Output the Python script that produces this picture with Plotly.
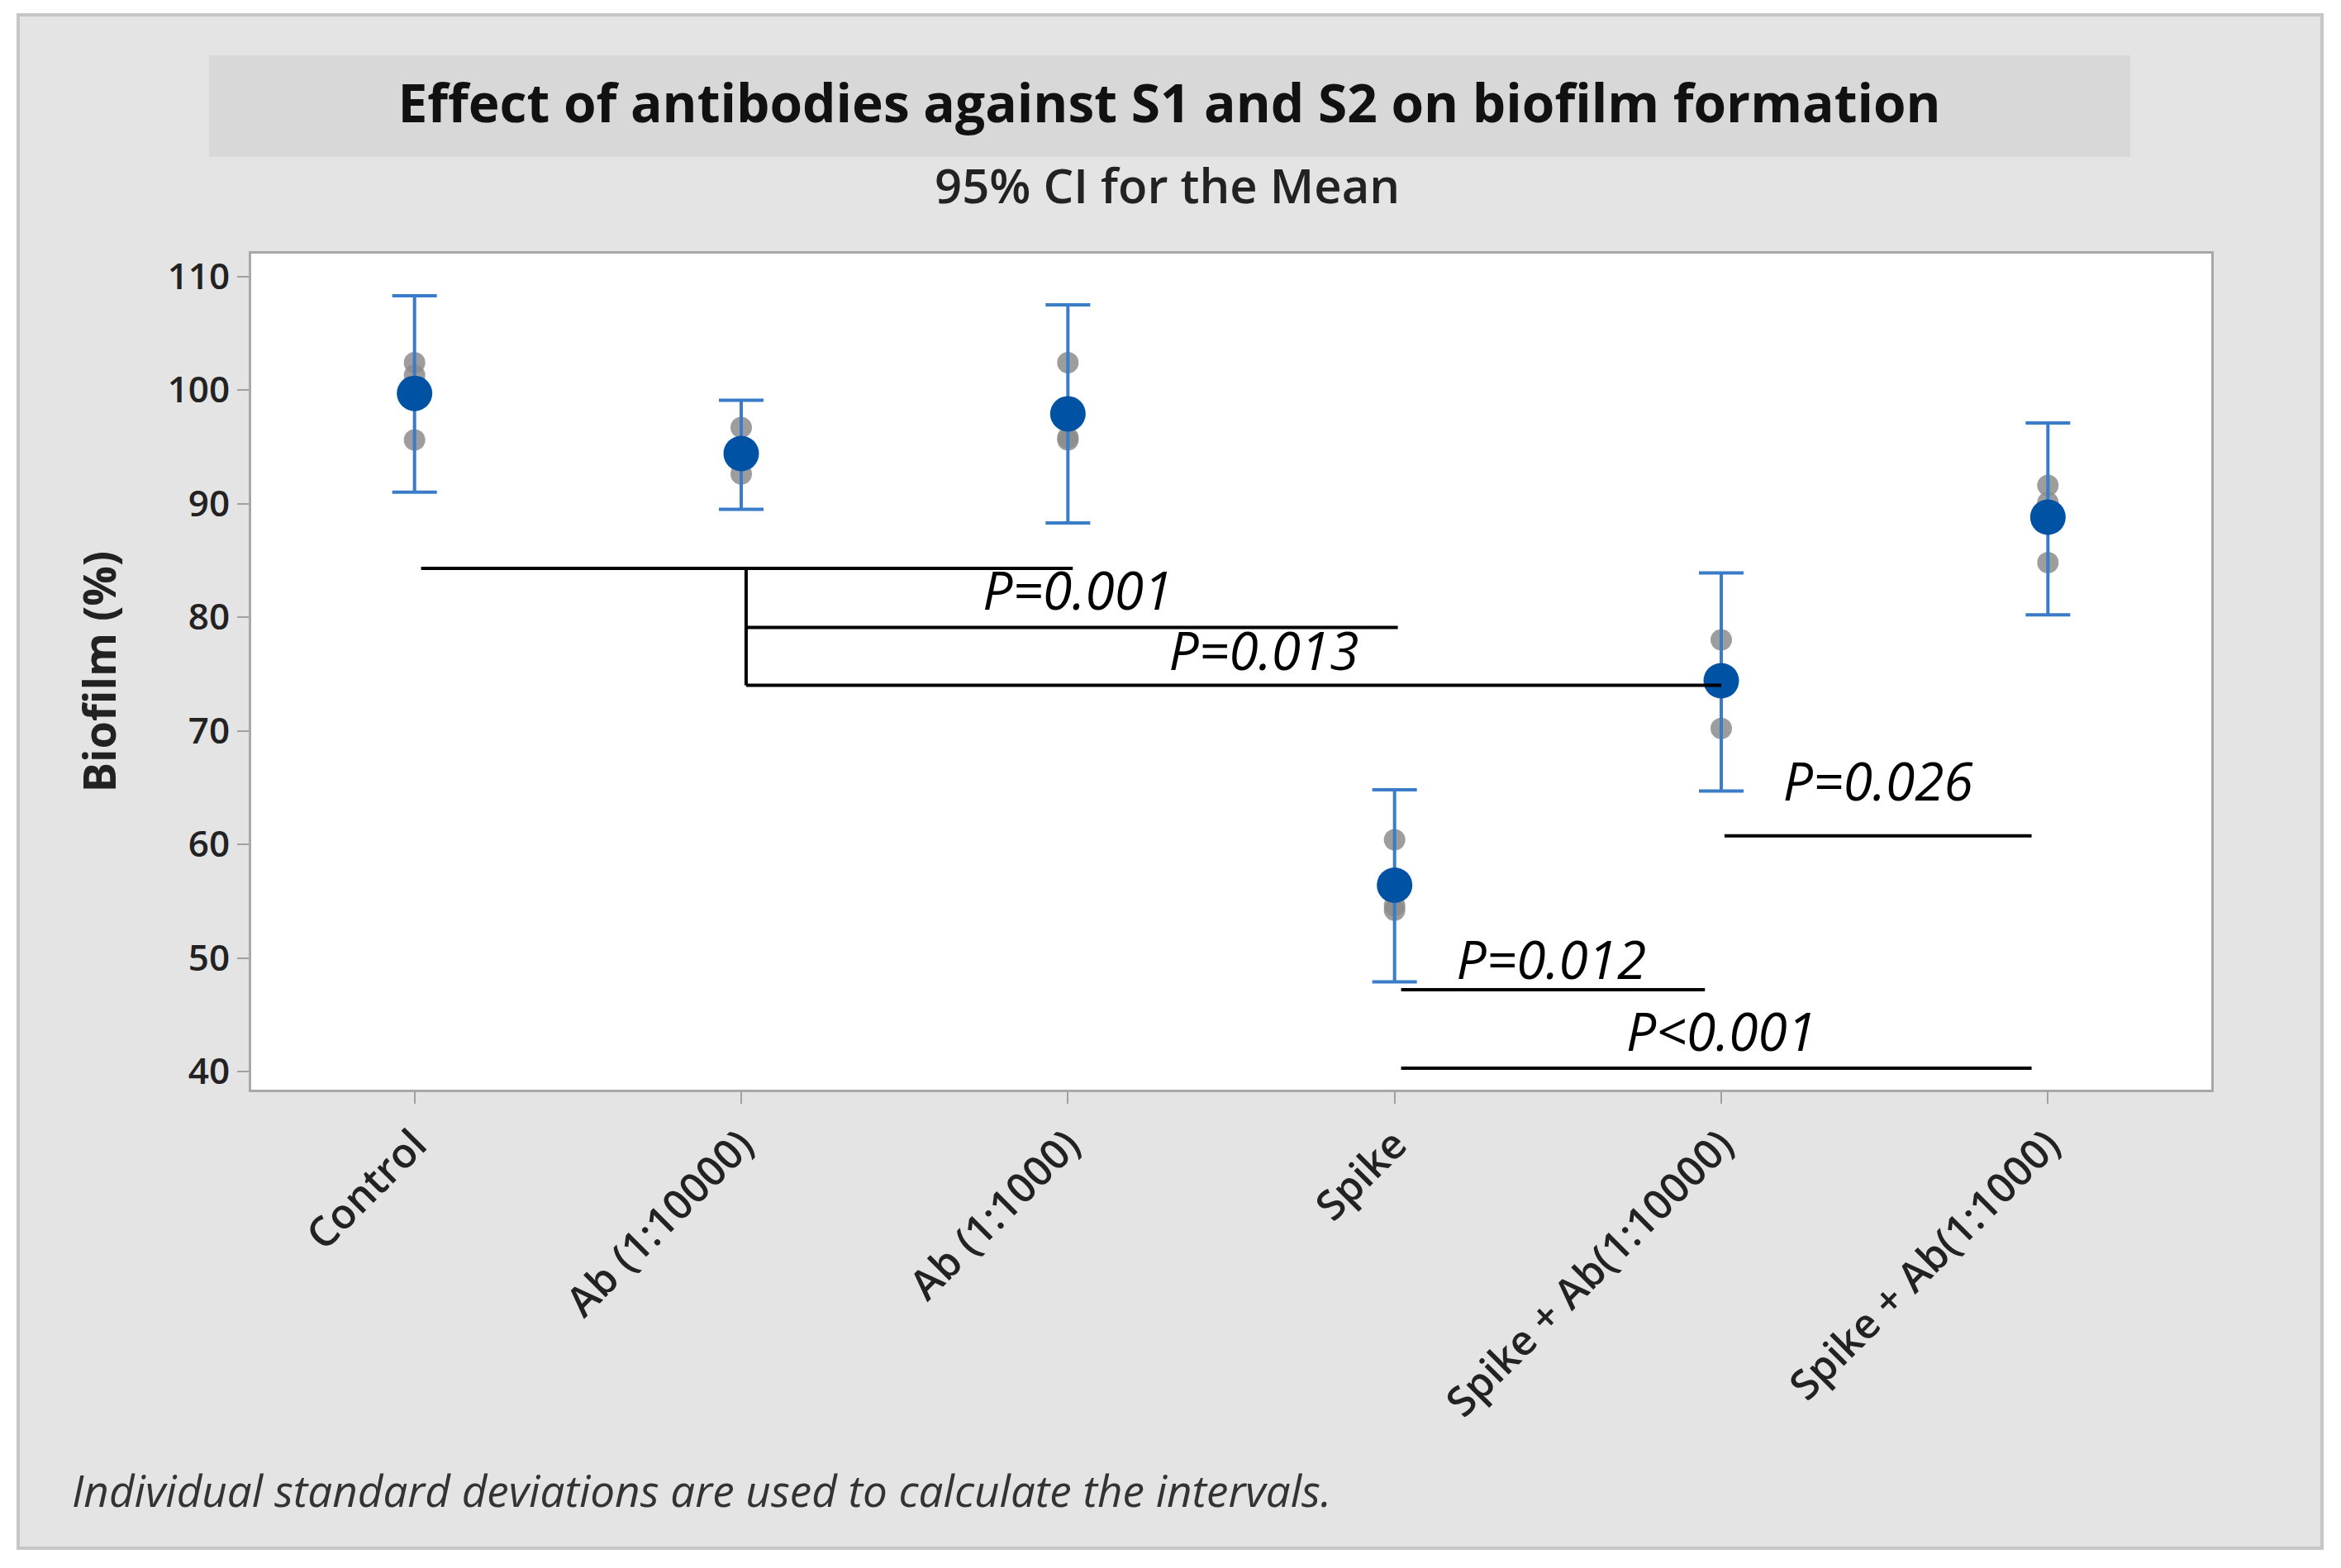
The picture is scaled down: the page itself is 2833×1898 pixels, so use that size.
import plotly.graph_objects as go

# ---------------- data ----------------
categories = ["Control", "Ab (1:10000)", "Ab (1:1000)", "Spike",
              "Spike + Ab(1:10000)", "Spike + Ab(1:1000)"]
means = [99.7, 94.4, 97.9, 56.4, 74.4, 88.8]
ci_low = [91.0, 89.5, 88.3, 47.9, 64.7, 80.2]
ci_high = [108.3, 99.1, 107.5, 64.8, 83.9, 97.1]
obs_1 = [102.4, 96.7, 102.4, 60.4, 78.0, 91.6]
obs_2 = [101.3, 94.0, 95.8, 54.6, 75.0, 90.1]
obs_3 = [95.6, 92.6, 95.6, 54.2, 70.2, 84.8]

y_ticks = [40, 50, 60, 70, 80, 90, 100, 110]

# significance brackets (category-index units, y in %)
bracket_x0 = [0.02, 1.015, 1.015, 1.015, 4.01, 3.02, 3.02]
bracket_x1 = [2.015, 1.015, 3.01, 4.0, 4.95, 3.95, 4.95]
bracket_y0 = [84.3, 84.3, 79.1, 74.0, 60.75, 47.2, 40.3]
bracket_y1 = [84.3, 74.0, 79.1, 74.0, 60.75, 47.2, 40.3]

p_labels = ["P=0.001", "P=0.013", "P=0.026", "P=0.012", "P<0.001"]
p_label_x = [2.03, 2.60, 4.48, 3.48, 4.00]
p_label_y = [81.8, 76.5, 65.0, 49.3, 43.0]

# ---------------- layout geometry (page pixels) ----------------
OFF = 8                      # default body margin of the html page
W, H = 2833 - 2 * OFF, 1898 - 2 * OFF
L, R_EDGE, T, B_EDGE = 304, 2676, 307, 1319   # plot area, page coords
FONT = "Open Sans, Noto Sans, sans-serif"


def pxx(px):
    return (px - L) / (R_EDGE - L)


def pxy(py):
    return (B_EDGE - py) / (B_EDGE - T)


xs = list(range(len(categories)))

fig = go.Figure()

# individual observations
obs_x, obs_y = [], []
for i in xs:
    for series in (obs_1, obs_2, obs_3):
        obs_x.append(i)
        obs_y.append(series[i])
fig.add_trace(go.Scatter(
    x=obs_x, y=obs_y, mode="markers",
    marker=dict(size=26, color="#8c8c8c", opacity=0.85),
    hoverinfo="y", showlegend=False))

# means with 95% CI
fig.add_trace(go.Scatter(
    x=xs, y=means, mode="markers",
    marker=dict(size=43, color="#0052a5"),
    error_y=dict(type="data", symmetric=False,
                 array=[h - m for h, m in zip(ci_high, means)],
                 arrayminus=[m - l for m, l in zip(means, ci_low)],
                 color="#3b7cc8", thickness=4, width=27),
    showlegend=False))

# significance brackets
bx, by = [], []
for x0, x1, y0, y1 in zip(bracket_x0, bracket_x1, bracket_y0, bracket_y1):
    bx += [x0, x1, None]
    by += [y0, y1, None]
fig.add_trace(go.Scatter(x=bx, y=by, mode="lines",
                         line=dict(color="black", width=4),
                         hoverinfo="skip", showlegend=False))

fig.add_trace(go.Scatter(
    x=p_label_x, y=p_label_y, mode="text", text=p_labels,
    textfont=dict(family=FONT, size=64, color="black", style="italic"),
    hoverinfo="skip", showlegend=False))

shapes = [
    # outer grey panel
    dict(type="rect", xref="paper", yref="paper", layer="below",
         x0=pxx(22), x1=pxx(2810), y0=pxy(18), y1=pxy(1874),
         fillcolor="#e4e4e4", line=dict(color="#c6c6c6", width=4)),
    # title band
    dict(type="rect", xref="paper", yref="paper", layer="below",
         x0=pxx(253), x1=pxx(2578), y0=pxy(67), y1=pxy(190),
         fillcolor="#d8d8d8", line=dict(width=0)),
    # plot area background
    dict(type="rect", xref="paper", yref="paper", layer="below",
         x0=0, x1=1, y0=0, y1=1, fillcolor="white", line=dict(width=0)),
]

annotations = [
    dict(text="95% CI for the Mean", xref="paper", yref="paper",
         x=pxx(1412), y=pxy(224), xanchor="center", yanchor="middle",
         showarrow=False, font=dict(family=FONT, size=58, color="#222",
                                    weight=600)),
    dict(text="Individual standard deviations are used to calculate the intervals.",
         xref="paper", yref="paper", x=pxx(85), y=pxy(1803),
         xanchor="left", yanchor="middle", showarrow=False,
         font=dict(family=FONT, size=53, color="#333", style="italic")),
]

fig.update_layout(
    width=W, height=H,
    margin=dict(l=L - OFF, r=W - (R_EDGE - OFF), t=T - OFF,
                b=H - (B_EDGE - OFF), autoexpand=False),
    paper_bgcolor="white", plot_bgcolor="white",
    title=dict(text="Effect of antibodies against S1 and S2 on biofilm formation",
               xref="container", yref="container",
               x=(1415 - OFF) / W, y=1 - (126 - OFF) / H,
               xanchor="center", yanchor="middle",
               font=dict(family=FONT, size=64, color="#111", weight="bold")),
    shapes=shapes, annotations=annotations,
    font=dict(family=FONT),
)

fig.update_xaxes(
    range=[-0.5, 5.5], tickmode="array", tickvals=xs, ticktext=categories,
    tickangle=-45, ticks="outside", ticklen=14, tickcolor="#a0a0a0",
    tickwidth=2, showgrid=False, zeroline=False,
    showline=True, linecolor="#a8a8a8", linewidth=3, mirror=True,
    tickfont=dict(family=FONT, size=50, color="#222", weight=600),
)
fig.update_yaxes(
    range=[38.4, 112.0], tickmode="array", tickvals=y_ticks,
    ticks="outside", ticklen=14, tickcolor="#a0a0a0", tickwidth=2,
    showgrid=False, zeroline=False,
    showline=True, linecolor="#a8a8a8", linewidth=3, mirror=True,
    tickfont=dict(family=FONT, size=44, color="#222", weight=600),
    title=dict(text="Biofilm (%)", standoff=45,
               font=dict(family=FONT, size=54, color="#222", weight="bold")),
)

fig.write_html("out.html")
